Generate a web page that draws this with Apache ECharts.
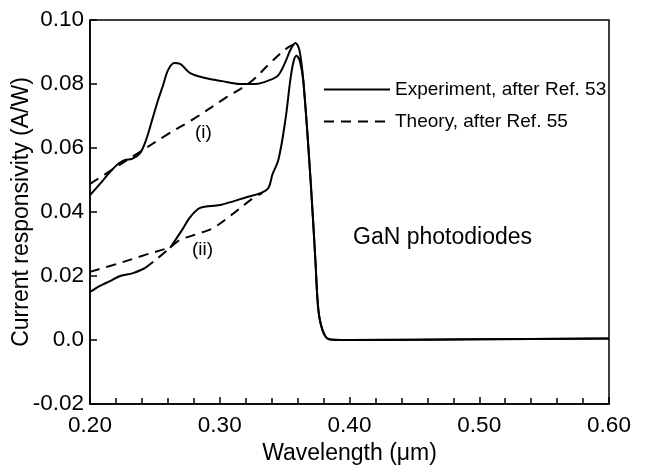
<!DOCTYPE html>
<html>
<head>
<meta charset="utf-8">
<script src="https://cdn.jsdelivr.net/npm/echarts@6/dist/echarts.min.js"></script>
<style>
  html, body { margin: 0; padding: 0; background: #fff; }
  #chart { width: 646px; height: 466px; }
</style>
</head>
<body>
<div id="chart"></div>
<script>
// ---- Data (wavelength in µm, responsivity in A/W) ----
const expI_x = [0.200, 0.2077, 0.2154, 0.2216, 0.2270, 0.2324, 0.2386, 0.2432, 0.2479, 0.2525, 0.2564, 0.2602, 0.2649, 0.2695, 0.2772, 0.2888, 0.3019, 0.3158, 0.3274, 0.3390, 0.3452, 0.3506, 0.3544, 0.3583, 0.3614];
const expI_y = [0.0453, 0.0488, 0.0525, 0.0550, 0.0563, 0.0566, 0.0584, 0.0625, 0.0688, 0.0750, 0.0797, 0.0844, 0.0866, 0.0863, 0.0834, 0.0819, 0.0809, 0.0800, 0.0800, 0.0813, 0.0828, 0.0869, 0.0906, 0.0928, 0.0906];

const expII_x = [0.200, 0.2077, 0.2154, 0.2232, 0.2332, 0.2425, null, 0.2618, 0.2710, 0.2772, 0.2849, 0.3004, 0.3212, 0.3313, 0.3375, 0.3405, 0.3452, 0.3506, 0.3544, 0.3568, 0.3591, 0.3618];
const expII_y = [0.0150, 0.0169, 0.0184, 0.0200, 0.0209, 0.0225, null, 0.0288, 0.0344, 0.0384, 0.0413, 0.0422, 0.0447, 0.0459, 0.0475, 0.0516, 0.0563, 0.0688, 0.0813, 0.0869, 0.0888, 0.0870];

// dashed piece drawn over the gap of curve (ii)
const expIIgap_x = [0.2425, 0.2520, 0.2618];
const expIIgap_y = [0.0225, 0.0255, 0.0288];

// shared absorption edge and flat tail
const edge_x = [0.3645, 0.3700, 0.3737, 0.3760, 0.3792, 0.3838, 0.3930, 0.4000, 0.5000, 0.6000];
const edge_y = [0.0806, 0.0500, 0.0250, 0.0094, 0.0031, 0.0003, 0.0000, 0.0000, 0.0002, 0.0005];

const theoI_x = [0.200, 0.2193, 0.2386, 0.2579, 0.2811, 0.3042, 0.3236, 0.3390, 0.3521, 0.3583];
const theoI_y = [0.0488, 0.0538, 0.0588, 0.0638, 0.0694, 0.0756, 0.0806, 0.0866, 0.0913, 0.0925];

const theoII_x = [0.200, 0.2232, 0.2425, 0.2618, 0.2695, 0.2849, 0.2950, 0.3081, 0.3259, 0.3328];
const theoII_y = [0.0213, 0.0241, 0.0266, 0.0291, 0.0313, 0.0334, 0.0350, 0.0388, 0.0444, 0.0459];

const xTicks = [0.20, 0.30, 0.40, 0.50, 0.60];
const yTicks = [-0.02, 0.0, 0.02, 0.04, 0.06, 0.08, 0.10];

const EXP = 'Experiment, after Ref. 53';
const THEO = 'Theory, after Ref. 55';

function pairs(xs, ys) { return xs.map((x, i) => (x === null ? [null, null] : [x, ys[i]])); }

const FONT = '"Liberation Sans", Arial, Helvetica, sans-serif';
const solid = { color: '#000', width: 2, type: 'solid' };
const dashed = { color: '#000', width: 2, type: [10, 7] };

function lineSeries(name, data, style) {
  return {
    name: name, type: 'line', data: data, symbol: 'none', showSymbol: false,
    smooth: 0.35, connectNulls: false,
    lineStyle: style, itemStyle: { color: '#000' }, animation: false, z: 3
  };
}

const chart = echarts.init(document.getElementById('chart'), null, { renderer: 'canvas' });
chart.setOption({
  backgroundColor: '#fff',
  animation: false,
  textStyle: { fontFamily: FONT },
  grid: { left: 90, right: 37, top: 20, bottom: 62, show: true, borderColor: '#000', borderWidth: 1.5,
          backgroundColor: 'transparent', containLabel: false, outerBoundsMode: 'none' },
  legend: {
    data: [EXP, THEO], orient: 'vertical', left: 318, top: 75,
    itemWidth: 66, itemHeight: 22, itemGap: 13,
    itemStyle: { opacity: 0 },
    textStyle: { fontFamily: FONT, fontSize: 19, color: '#000' },
    selectedMode: false
  },
  xAxis: {
    type: 'value', min: 0.2, max: 0.6, interval: 0.1,
    name: 'Wavelength (\u03bcm)', nameLocation: 'middle', nameGap: 38, nameMoveOverlap: false,
    nameTextStyle: { fontFamily: FONT, fontSize: 23, color: '#000' },
    axisLine: { onZero: false, lineStyle: { color: '#000', width: 1.5 } },
    axisTick: { inside: true, length: 7, lineStyle: { color: '#000', width: 1.5 } },
    minorTick: { show: true, splitNumber: 5, length: 6, lineStyle: { color: '#000', width: 1.5 } },
    splitLine: { show: false },
    axisLabel: { fontFamily: FONT, fontSize: 22.5, color: '#000', margin: 10,
      formatter: v => { const t = xTicks.find(k => Math.abs(k - v) < 1e-9); return (t !== undefined ? t : v).toFixed(2); } }
  },
  yAxis: {
    type: 'value', min: -0.02, max: 0.10, interval: 0.02,
    name: 'Current responsivity (A/W)', nameLocation: 'middle', nameGap: 57, nameMoveOverlap: false,
    nameTextStyle: { fontFamily: FONT, fontSize: 23, color: '#000' },
    axisLine: { show: true, onZero: false, lineStyle: { color: '#000', width: 1.5 } },
    axisTick: { show: true, inside: true, length: 7, lineStyle: { color: '#000', width: 1.5 } },
    splitLine: { show: false },
    axisLabel: { fontFamily: FONT, fontSize: 22.5, color: '#000', margin: 6,
      formatter: v => { const t = yTicks.find(k => Math.abs(k - v) < 1e-9); const val = (t !== undefined ? t : v); return Math.abs(val) < 1e-9 ? '0.0' : val.toFixed(2); } }
  },
  graphic: [
    { type: 'text', left: 195, top: 123, style: { text: '(i)', font: '19px ' + FONT, fill: '#000' } },
    { type: 'text', left: 192, top: 240, style: { text: '(ii)', font: '19px ' + FONT, fill: '#000' } },
    { type: 'text', left: 353, top: 226, style: { text: 'GaN photodiodes', font: '23px ' + FONT, fill: '#000' } }
  ],
  series: [
    lineSeries(EXP, pairs(expI_x, expI_y).concat(pairs(edge_x, edge_y)), solid),
    lineSeries(EXP, pairs(expII_x, expII_y).concat(pairs(edge_x, edge_y)), solid),
    lineSeries(THEO, pairs(expIIgap_x, expIIgap_y), dashed),
    lineSeries(THEO, pairs(theoI_x, theoI_y), dashed),
    lineSeries(THEO, pairs(theoII_x, theoII_y), dashed)
  ]
});
</script>
</body>
</html>
